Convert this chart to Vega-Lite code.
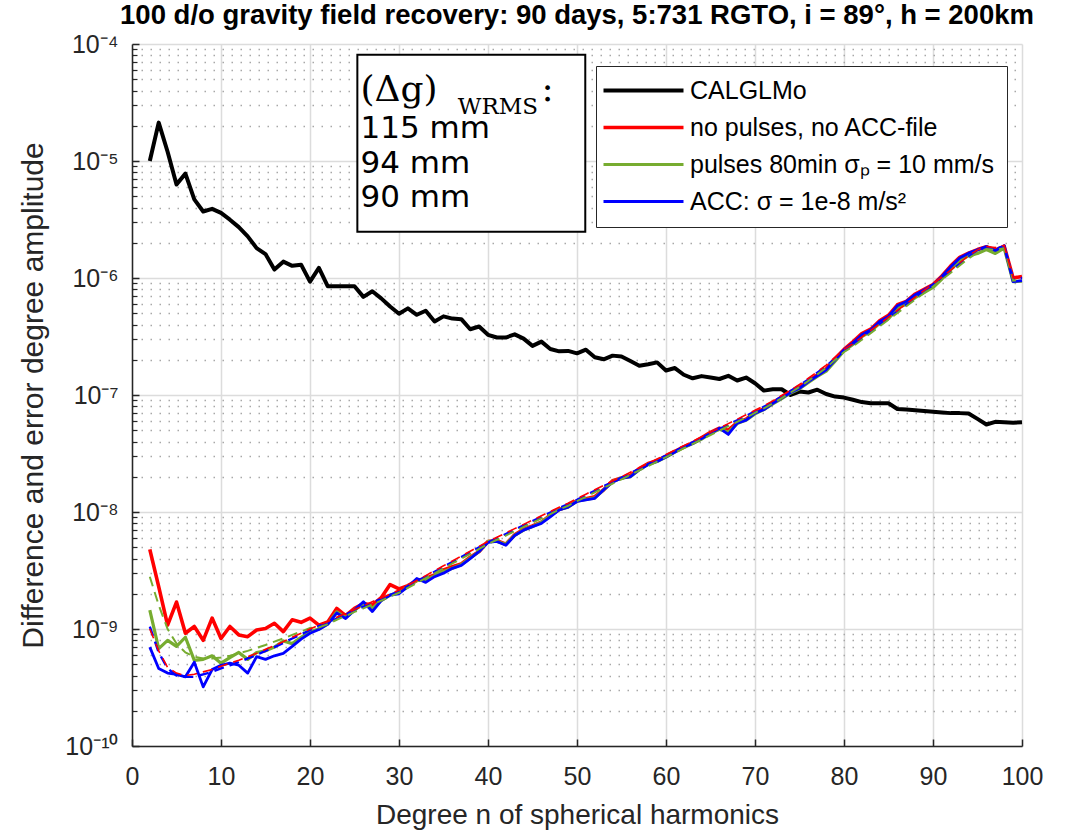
{
"$schema": "https://vega.github.io/schema/vega-lite/v6.json",
"width": 890, "height": 702,
"autosize": {"type": "none"},
"padding": {"left": 132, "top": 44, "right": 60, "bottom": 88},
"background": "white",
"config": {"font": "Liberation Sans", "view": {"stroke": null}},
"title": {"text": "100 d/o gravity field recovery: 90 days, 5:731 RGTO, i = 89°, h = 200km", "fontSize": 27.5, "fontWeight": "bold", "anchor": "middle", "offset": 3, "color": "#000000", "font": "Liberation Sans"},
"data": {"values": [
{"n":2,"cal":1.0e-5,"r":4.8e-9,"g":1.45e-9,"b":7.0e-10,"rd":1.0e-9,"gd":2.8e-9,"bd":1.05e-9},
{"n":3,"cal":2.13e-5,"r":2.3e-9,"g":6.8e-10,"b":4.6e-10,"rd":6.5e-10,"gd":1.6e-9,"bd":6.3e-10},
{"n":4,"cal":1.2e-5,"r":1.08e-9,"g":8.0e-10,"b":4.2e-10,"rd":4.7e-10,"gd":1.0e-9,"bd":4.6e-10},
{"n":5,"cal":6.3e-6,"r":1.7e-9,"g":7.1e-10,"b":4.1e-10,"rd":4.2e-10,"gd":7.5e-10,"bd":4.0e-10},
{"n":6,"cal":7.8e-6,"r":9.2e-10,"g":8.5e-10,"b":3.9e-10,"rd":4.0e-10,"gd":6.3e-10,"bd":3.9e-10},
{"n":7,"cal":4.7e-6,"r":1.05e-9,"g":5.4e-10,"b":5.2e-10,"rd":4.1e-10,"gd":5.8e-10,"bd":3.9e-10},
{"n":8,"cal":3.7e-6,"r":8.0e-10,"g":5.5e-10,"b":3.2e-10,"rd":4.3e-10,"gd":5.6e-10,"bd":4.1e-10},
{"n":9,"cal":3.9e-6,"r":1.24e-9,"g":5.9e-10,"b":4.5e-10,"rd":4.5e-10,"gd":5.6e-10,"bd":4.3e-10},
{"n":10,"cal":3.6e-6,"r":8.3e-10,"g":5.1e-10,"b":4.9e-10,"rd":4.8e-10,"gd":5.7e-10,"bd":4.6e-10},
{"n":11,"cal":3.15e-6,"r":1.05e-9,"g":5.7e-10,"b":5.1e-10,"rd":5.1e-10,"gd":5.9e-10,"bd":4.9e-10},
{"n":12,"cal":2.72e-6,"r":8.9e-10,"g":6.3e-10,"b":4.9e-10,"rd":5.4e-10,"gd":6.2e-10,"bd":5.2e-10},
{"n":13,"cal":2.27e-6,"r":8.6e-10,"g":5.5e-10,"b":4.2e-10,"rd":5.8e-10,"gd":6.5e-10,"bd":5.6e-10},
{"n":14,"cal":1.8e-6,"r":9.8e-10,"g":6.3e-10,"b":5.8e-10,"rd":6.2e-10,"gd":6.9e-10,"bd":6.0e-10},
{"n":15,"cal":1.6e-6,"r":1.01e-9,"g":6.5e-10,"b":5.5e-10,"rd":6.7e-10,"gd":7.3e-10,"bd":6.5e-10},
{"n":16,"cal":1.18e-6,"r":1.12e-9,"g":7.0e-10,"b":5.9e-10,"rd":7.2e-10,"gd":7.8e-10,"bd":7.0e-10},
{"n":17,"cal":1.38e-6,"r":9.5e-10,"g":7.9e-10,"b":6.2e-10,"rd":7.8e-10,"gd":8.3e-10,"bd":7.6e-10},
{"n":18,"cal":1.27e-6,"r":1.2e-9,"g":7.5e-10,"b":7.1e-10,"rd":8.5e-10,"gd":8.9e-10,"bd":8.3e-10},
{"n":19,"cal":1.3e-6,"r":1.14e-9,"g":8.5e-10,"b":8.2e-10,"rd":9.2e-10,"gd":9.5e-10,"bd":9.0e-10},
{"n":20,"cal":9.3e-7,"r":1.24e-9,"g":9.5e-10,"b":9.2e-10,"rd":1.0e-9,"gd":1.02e-9,"bd":9.8e-10},
{"n":21,"cal":1.22e-6,"r":1.08e-9,"g":1.0e-9,"b":9.9e-10,"rd":1.08e-9,"gd":1.03e-9,"bd":1.06e-9},
{"n":22,"cal":8.5e-7,"r":1.15e-9,"g":1.1e-9,"b":1.1e-9,"rd":1.16e-9,"gd":1.1e-9,"bd":1.14e-9},
{"n":23,"cal":8.5e-7,"r":1.5e-9,"g":1.4e-9,"b":1.37e-9,"rd":1.26e-9,"gd":1.2e-9,"bd":1.23e-9},
{"n":24,"cal":8.5e-7,"r":1.3e-9,"g":1.25e-9,"b":1.23e-9,"rd":1.36e-9,"gd":1.29e-9,"bd":1.33e-9},
{"n":25,"cal":8.5e-7,"r":1.5e-9,"g":1.45e-9,"b":1.45e-9,"rd":1.47e-9,"gd":1.4e-9,"bd":1.44e-9},
{"n":26,"cal":6.9e-7,"r":1.65e-9,"g":1.65e-9,"b":1.71e-9,"rd":1.58e-9,"gd":1.5e-9,"bd":1.55e-9},
{"n":27,"cal":7.7e-7,"r":1.6e-9,"g":1.5e-9,"b":1.41e-9,"rd":1.71e-9,"gd":1.62e-9,"bd":1.68e-9},
{"n":28,"cal":6.7e-7,"r":1.85e-9,"g":1.75e-9,"b":1.75e-9,"rd":1.84e-9,"gd":1.75e-9,"bd":1.8e-9},
{"n":29,"cal":5.7e-7,"r":2.4e-9,"g":1.95e-9,"b":1.95e-9,"rd":1.99e-9,"gd":1.89e-9,"bd":1.95e-9},
{"n":30,"cal":4.95e-7,"r":2.2e-9,"g":2.05e-9,"b":2.0e-9,"rd":2.15e-9,"gd":2.04e-9,"bd":2.11e-9},
{"n":31,"cal":5.5e-7,"r":2.35e-9,"g":2.3e-9,"b":2.3e-9,"rd":2.37e-9,"gd":2.25e-9,"bd":2.32e-9},
{"n":32,"cal":4.85e-7,"r":2.6e-9,"g":2.6e-9,"b":2.7e-9,"rd":2.6e-9,"gd":2.47e-9,"bd":2.55e-9},
{"n":33,"cal":5.25e-7,"r":2.7e-9,"g":2.6e-9,"b":2.5e-9,"rd":2.86e-9,"gd":2.72e-9,"bd":2.8e-9},
{"n":34,"cal":4.25e-7,"r":2.9e-9,"g":2.85e-9,"b":2.8e-9,"rd":3.15e-9,"gd":2.99e-9,"bd":3.09e-9},
{"n":35,"cal":4.7e-7,"r":3.2e-9,"g":3.1e-9,"b":3.0e-9,"rd":3.47e-9,"gd":3.3e-9,"bd":3.4e-9},
{"n":36,"cal":4.5e-7,"r":3.4e-9,"g":3.3e-9,"b":3.3e-9,"rd":3.82e-9,"gd":3.63e-9,"bd":3.74e-9},
{"n":37,"cal":4.45e-7,"r":3.6e-9,"g":3.55e-9,"b":3.5e-9,"rd":4.2e-9,"gd":3.99e-9,"bd":4.12e-9},
{"n":38,"cal":3.65e-7,"r":4.1e-9,"g":4.05e-9,"b":4.0e-9,"rd":4.62e-9,"gd":4.39e-9,"bd":4.53e-9},
{"n":39,"cal":3.85e-7,"r":4.6e-9,"g":4.6e-9,"b":4.6e-9,"rd":5.08e-9,"gd":4.83e-9,"bd":4.98e-9},
{"n":40,"cal":3.27e-7,"r":5.6e-9,"g":5.6e-9,"b":5.5e-9,"rd":5.6e-9,"gd":5.32e-9,"bd":5.49e-9},
{"n":41,"cal":3.1e-7,"r":5.7e-9,"g":5.6e-9,"b":5.6e-9,"rd":6.09e-9,"gd":5.79e-9,"bd":5.97e-9},
{"n":42,"cal":3.1e-7,"r":5.3e-9,"g":5.3e-9,"b":5.2e-9,"rd":6.62e-9,"gd":6.29e-9,"bd":6.49e-9},
{"n":43,"cal":3.3e-7,"r":6.4e-9,"g":6.3e-9,"b":6.3e-9,"rd":7.21e-9,"gd":6.85e-9,"bd":7.07e-9},
{"n":44,"cal":3.03e-7,"r":7.1e-9,"g":7.0e-9,"b":7.0e-9,"rd":7.84e-9,"gd":7.45e-9,"bd":7.68e-9},
{"n":45,"cal":2.63e-7,"r":7.6e-9,"g":7.5e-9,"b":7.5e-9,"rd":8.53e-9,"gd":8.1e-9,"bd":8.36e-9},
{"n":46,"cal":2.86e-7,"r":8.2e-9,"g":8.2e-9,"b":8.0e-9,"rd":9.28e-9,"gd":8.82e-9,"bd":9.09e-9},
{"n":47,"cal":2.47e-7,"r":9.4e-9,"g":9.3e-9,"b":9.1e-9,"rd":1.01e-8,"gd":9.6e-9,"bd":9.9e-9},
{"n":48,"cal":2.36e-7,"r":1.05e-8,"g":1.05e-8,"b":1.04e-8,"rd":1.1e-8,"gd":1.05e-8,"bd":1.08e-8},
{"n":49,"cal":2.38e-7,"r":1.12e-8,"g":1.1e-8,"b":1.1e-8,"rd":1.19e-8,"gd":1.13e-8,"bd":1.17e-8},
{"n":50,"cal":2.27e-7,"r":1.25e-8,"g":1.24e-8,"b":1.23e-8,"rd":1.3e-8,"gd":1.24e-8,"bd":1.27e-8},
{"n":51,"cal":2.44e-7,"r":1.3e-8,"g":1.28e-8,"b":1.27e-8,"rd":1.42e-8,"gd":1.35e-8,"bd":1.39e-8},
{"n":52,"cal":2.1e-7,"r":1.35e-8,"g":1.32e-8,"b":1.31e-8,"rd":1.55e-8,"gd":1.47e-8,"bd":1.52e-8},
{"n":53,"cal":2.02e-7,"r":1.55e-8,"g":1.55e-8,"b":1.55e-8,"rd":1.69e-8,"gd":1.61e-8,"bd":1.66e-8},
{"n":54,"cal":2.17e-7,"r":1.85e-8,"g":1.82e-8,"b":1.8e-8,"rd":1.84e-8,"gd":1.75e-8,"bd":1.8e-8},
{"n":55,"cal":2.13e-7,"r":1.95e-8,"g":1.95e-8,"b":1.95e-8,"rd":2.0e-8,"gd":1.9e-8,"bd":1.96e-8},
{"n":56,"cal":1.95e-7,"r":2.05e-8,"g":2.0e-8,"b":2.0e-8,"rd":2.19e-8,"gd":2.08e-8,"bd":2.15e-8},
{"n":57,"cal":1.78e-7,"r":2.35e-8,"g":2.3e-8,"b":2.3e-8,"rd":2.39e-8,"gd":2.27e-8,"bd":2.34e-8},
{"n":58,"cal":1.83e-7,"r":2.6e-8,"g":2.55e-8,"b":2.55e-8,"rd":2.6e-8,"gd":2.47e-8,"bd":2.55e-8},
{"n":59,"cal":1.9e-7,"r":2.75e-8,"g":2.7e-8,"b":2.7e-8,"rd":2.84e-8,"gd":2.7e-8,"bd":2.78e-8},
{"n":60,"cal":1.62e-7,"r":3.0e-8,"g":2.95e-8,"b":2.95e-8,"rd":3.1e-8,"gd":2.95e-8,"bd":3.04e-8},
{"n":61,"cal":1.7e-7,"r":3.3e-8,"g":3.25e-8,"b":3.25e-8,"rd":3.38e-8,"gd":3.21e-8,"bd":3.31e-8},
{"n":62,"cal":1.49e-7,"r":3.6e-8,"g":3.55e-8,"b":3.6e-8,"rd":3.69e-8,"gd":3.51e-8,"bd":3.62e-8},
{"n":63,"cal":1.39e-7,"r":3.9e-8,"g":3.85e-8,"b":3.85e-8,"rd":4.02e-8,"gd":3.82e-8,"bd":3.94e-8},
{"n":64,"cal":1.45e-7,"r":4.3e-8,"g":4.2e-8,"b":4.25e-8,"rd":4.39e-8,"gd":4.17e-8,"bd":4.3e-8},
{"n":65,"cal":1.41e-7,"r":4.8e-8,"g":4.7e-8,"b":4.7e-8,"rd":4.79e-8,"gd":4.55e-8,"bd":4.69e-8},
{"n":66,"cal":1.37e-7,"r":5.2e-8,"g":5.1e-8,"b":5.2e-8,"rd":5.22e-8,"gd":4.96e-8,"bd":5.12e-8},
{"n":67,"cal":1.46e-7,"r":5.0e-8,"g":4.8e-8,"b":4.6e-8,"rd":5.69e-8,"gd":5.41e-8,"bd":5.58e-8},
{"n":68,"cal":1.33e-7,"r":5.8e-8,"g":5.7e-8,"b":5.75e-8,"rd":6.21e-8,"gd":5.9e-8,"bd":6.09e-8},
{"n":69,"cal":1.41e-7,"r":6.2e-8,"g":6.1e-8,"b":6.1e-8,"rd":6.77e-8,"gd":6.43e-8,"bd":6.63e-8},
{"n":70,"cal":1.26e-7,"r":7.1e-8,"g":6.9e-8,"b":7.0e-8,"rd":7.4e-8,"gd":7.03e-8,"bd":7.25e-8},
{"n":71,"cal":1.09e-7,"r":7.6e-8,"g":7.5e-8,"b":7.5e-8,"rd":8.1e-8,"gd":7.7e-8,"bd":7.94e-8},
{"n":72,"cal":1.12e-7,"r":8.6e-8,"g":8.4e-8,"b":8.5e-8,"rd":8.9e-8,"gd":8.46e-8,"bd":8.72e-8},
{"n":73,"cal":1.12e-7,"r":9.6e-8,"g":9.3e-8,"b":9.4e-8,"rd":9.9e-8,"gd":9.4e-8,"bd":9.7e-8},
{"n":74,"cal":1.0e-7,"r":1.07e-7,"g":1.04e-7,"b":1.05e-7,"rd":1.1e-7,"gd":1.05e-7,"bd":1.08e-7},
{"n":75,"cal":1.07e-7,"r":1.16e-7,"g":1.13e-7,"b":1.14e-7,"rd":1.23e-7,"gd":1.17e-7,"bd":1.21e-7},
{"n":76,"cal":1.05e-7,"r":1.32e-7,"g":1.28e-7,"b":1.3e-7,"rd":1.39e-7,"gd":1.32e-7,"bd":1.36e-7},
{"n":77,"cal":1.11e-7,"r":1.48e-7,"g":1.44e-7,"b":1.46e-7,"rd":1.58e-7,"gd":1.5e-7,"bd":1.55e-7},
{"n":78,"cal":1.02e-7,"r":1.67e-7,"g":1.6e-7,"b":1.64e-7,"rd":1.8e-7,"gd":1.71e-7,"bd":1.76e-7},
{"n":79,"cal":9.7e-8,"r":2.05e-7,"g":1.95e-7,"b":2.0e-7,"rd":2.1e-7,"gd":2.0e-7,"bd":2.06e-7},
{"n":80,"cal":9.5e-8,"r":2.45e-7,"g":2.38e-7,"b":2.43e-7,"rd":2.45e-7,"gd":2.33e-7,"bd":2.4e-7},
{"n":81,"cal":9.1e-8,"r":2.85e-7,"g":2.7e-7,"b":2.78e-7,"rd":2.74e-7,"gd":2.6e-7,"bd":2.69e-7},
{"n":82,"cal":8.7e-8,"r":3.35e-7,"g":3.15e-7,"b":3.27e-7,"rd":3.13e-7,"gd":2.97e-7,"bd":3.07e-7},
{"n":83,"cal":8.5e-8,"r":3.65e-7,"g":3.5e-7,"b":3.6e-7,"rd":3.56e-7,"gd":3.38e-7,"bd":3.49e-7},
{"n":84,"cal":8.5e-8,"r":4.3e-7,"g":4.1e-7,"b":4.25e-7,"rd":4.06e-7,"gd":3.86e-7,"bd":3.98e-7},
{"n":85,"cal":8.5e-8,"r":4.8e-7,"g":4.5e-7,"b":4.7e-7,"rd":4.63e-7,"gd":4.4e-7,"bd":4.54e-7},
{"n":86,"cal":7.6e-8,"r":5.9e-7,"g":5.5e-7,"b":5.8e-7,"rd":5.28e-7,"gd":5.02e-7,"bd":5.17e-7},
{"n":87,"cal":7.5e-8,"r":6.3e-7,"g":6.0e-7,"b":6.3e-7,"rd":6.03e-7,"gd":5.73e-7,"bd":5.91e-7},
{"n":88,"cal":7.4e-8,"r":7.3e-7,"g":6.8e-7,"b":7.2e-7,"rd":6.87e-7,"gd":6.53e-7,"bd":6.73e-7},
{"n":89,"cal":7.3e-8,"r":8.0e-7,"g":7.5e-7,"b":7.9e-7,"rd":7.83e-7,"gd":7.44e-7,"bd":7.67e-7},
{"n":90,"cal":7.2e-8,"r":8.8e-7,"g":8.3e-7,"b":8.7e-7,"rd":8.9e-7,"gd":8.46e-7,"bd":8.72e-7},
{"n":91,"cal":7.1e-8,"r":1.04e-6,"g":9.8e-7,"b":1.03e-6,"rd":1.02e-6,"gd":9.7e-7,"bd":1.0e-6},
{"n":92,"cal":7.0e-8,"r":1.27e-6,"g":1.18e-6,"b":1.25e-6,"rd":1.17e-6,"gd":1.11e-6,"bd":1.15e-6},
{"n":93,"cal":7.0e-8,"r":1.5e-6,"g":1.4e-6,"b":1.48e-6,"rd":1.35e-6,"gd":1.28e-6,"bd":1.32e-6},
{"n":94,"cal":6.95e-8,"r":1.63e-6,"g":1.55e-6,"b":1.63e-6,"rd":1.55e-6,"gd":1.47e-6,"bd":1.52e-6},
{"n":95,"cal":6.25e-8,"r":1.75e-6,"g":1.62e-6,"b":1.74e-6,"rd":1.74e-6,"gd":1.65e-6,"bd":1.71e-6},
{"n":96,"cal":5.6e-8,"r":1.85e-6,"g":1.75e-6,"b":1.86e-6,"rd":1.86e-6,"gd":1.77e-6,"bd":1.82e-6},
{"n":97,"cal":5.9e-8,"r":1.73e-6,"g":1.62e-6,"b":1.72e-6,"rd":1.82e-6,"gd":1.73e-6,"bd":1.78e-6},
{"n":98,"cal":5.85e-8,"r":1.87e-6,"g":1.8e-6,"b":1.89e-6,"rd":1.9e-6,"gd":1.8e-6,"bd":1.86e-6},
{"n":99,"cal":5.8e-8,"r":1.0e-6,"g":9.3e-7,"b":9.3e-7,"rd":1.0e-6,"gd":9.5e-7,"bd":9.8e-7},
{"n":100,"cal":5.85e-8,"r":1.03e-6,"g":9.4e-7,"b":9.5e-7,"rd":1.02e-6,"gd":9.7e-7,"bd":1.0e-6}
]},
"layer": [
{
"transform": [{"fold": ["cal","r","g","b"], "as": ["series","value"]}],
"mark": {"type": "line", "strokeJoin": "round"},
"encoding": {
"x": {"field": "n", "type": "quantitative", "scale": {"domain": [0,100], "nice": false},
 "axis": {"title": "Degree n of spherical harmonics", "values": [0,10,20,30,40,50,60,70,80,90,100], "grid": true, "gridColor": "#dcdcdc", "gridWidth": 1.5, "domainColor": "#262626", "domainWidth": 1.5, "tickColor": "#262626", "tickSize": -7, "tickWidth": 1.5, "labelFontSize": 25, "labelColor": "#262626", "labelPadding": 25, "labelFlush": false, "labelOverlap": false, "titleFontSize": 28, "titleFontWeight": "normal", "titleColor": "#262626", "titlePadding": 12}},
"y": {"field": "value", "type": "quantitative", "scale": {"type": "log", "domain": [1e-10,1e-4], "nice": false},
 "axis": {"orient": "left", "title": "Difference and error degree amplitude", "values": [1e-10,1e-9,1e-8,1e-7,1e-6,1e-5,1e-4], "labelExpr": "'10⁻' + ['⁰','¹','²','³','⁴','⁵','⁶','⁷','⁸','⁹','¹⁰'][round(-log(datum.value)/LN10)]", "grid": true, "gridColor": "#dcdcdc", "gridWidth": 1.5, "domainColor": "#262626", "domainWidth": 1.5, "tickColor": "#262626", "tickSize": -7, "tickWidth": 1.5, "labelFontSize": 25, "labelColor": "#262626", "labelPadding": 21, "labelFlush": false, "labelOverlap": false, "titleFontSize": 30, "titleFontWeight": "normal", "titleColor": "#262626", "titlePadding": 16}},
"color": {"field": "series", "type": "nominal", "scale": {"domain": ["cal","r","g","b","bd","gd","rd"], "range": ["#000000","#ff0000","#77ac30","#0000ff","#0000ff","#77ac30","#ff0000"]},
 "legend": {"title": null, "values": ["cal","r","g","b"], "orient": "none", "legendX": 464, "legendY": 22, "symbolType": "M-8,0H8", "symbolSize": 100, "symbolOffset": 23, "labelOffset": 34, "labelFontSize": 25, "labelFont": "Liberation Sans", "labelColor": "#000000", "labelLimit": 500, "padding": 12, "rowPadding": 11, "strokeColor": "#262626", "fillColor": "white",
 "labelExpr": "datum.label == 'cal' ? 'CALGLMo' : datum.label == 'r' ? 'no pulses, no ACC-file' : datum.label == 'g' ? 'pulses 80min σₚ = 10 mm/s' : 'ACC: σ = 1e-8 m/s²'"}},
"strokeWidth": {"field": "series", "type": "nominal", "scale": {"domain": ["cal","r","g","b","bd","gd","rd"], "range": [4,1.6,1.6,1.6,2,2,2]},
 "legend": {"title": null, "values": ["cal","r","g","b"], "orient": "none", "legendX": 464, "legendY": 22, "symbolType": "M-8,0H8", "symbolSize": 100, "symbolOffset": 23, "labelOffset": 34, "labelFontSize": 25, "labelFont": "Liberation Sans", "labelColor": "#000000", "labelLimit": 500, "padding": 12, "rowPadding": 11, "strokeColor": "#262626", "fillColor": "white",
 "labelExpr": "datum.label == 'cal' ? 'CALGLMo' : datum.label == 'r' ? 'no pulses, no ACC-file' : datum.label == 'g' ? 'pulses 80min σₚ = 10 mm/s' : 'ACC: σ = 1e-8 m/s²'"}}
}
},
{
"transform": [{"fold": ["bd","gd","rd"], "as": ["series","value"]}],
"mark": {"type": "line", "strokeDash": [10,6]},
"encoding": {
"x": {"field": "n", "type": "quantitative"},
"y": {"field": "value", "type": "quantitative",
 "axis": {"orient": "left", "title": null, "values": [2e-10,3e-10,4e-10,5e-10,6e-10,7e-10,8e-10,9e-10,2e-9,3e-9,4e-9,5e-9,6e-9,7e-9,8e-9,9e-9,2e-8,3e-8,4e-8,5e-8,6e-8,7e-8,8e-8,9e-8,2e-7,3e-7,4e-7,5e-7,6e-7,7e-7,8e-7,9e-7,2e-6,3e-6,4e-6,5e-6,6e-6,7e-6,8e-6,9e-6,2e-5,3e-5,4e-5,5e-5,6e-5,7e-5,8e-5,9e-5], "grid": true, "gridDash": [1.5,7.5], "gridColor": "#a8a8a8", "gridWidth": 1.3, "labels": false, "domain": false, "ticks": true, "tickSize": -5, "tickColor": "#262626", "tickWidth": 1.2}},
"color": {"field": "series", "type": "nominal"},
"strokeWidth": {"field": "series", "type": "nominal"}
}
},
{
"data": {"values": [{}]},
"mark": {"type": "rect", "fill": "white", "stroke": "#000000", "strokeWidth": 2},
"encoding": {
"x": {"datum": 25.32, "type": "quantitative"},
"x2": {"datum": 50.93},
"y": {"datum": 8.1e-5, "type": "quantitative", "axis": null},
"y2": {"datum": 2.48e-6}
}
},
{
"data": {"values": [{}]},
"mark": {"type": "text", "text": "(Δg)", "font": "DejaVu Serif", "fontSize": 36, "align": "left", "baseline": "alphabetic", "color": "#000000"},
"encoding": {"x": {"datum": 25.67, "type": "quantitative"}, "y": {"datum": 3.27e-5, "type": "quantitative", "axis": null}}
},
{
"data": {"values": [{}]},
"mark": {"type": "text", "text": "WRMS", "font": "DejaVu Serif", "fontSize": 23, "align": "left", "baseline": "alphabetic", "color": "#000000"},
"encoding": {"x": {"datum": 36.6, "type": "quantitative"}, "y": {"datum": 2.5e-5, "type": "quantitative", "axis": null}}
},
{
"data": {"values": [{}]},
"mark": {"type": "text", "text": ":", "font": "DejaVu Serif", "fontSize": 36, "align": "left", "baseline": "alphabetic", "color": "#000000"},
"encoding": {"x": {"datum": 46.0, "type": "quantitative"}, "y": {"datum": 3.27e-5, "type": "quantitative", "axis": null}}
},
{
"data": {"values": [{}]},
"mark": {"type": "text", "text": "115 mm", "font": "DejaVu Sans", "fontSize": 31, "align": "left", "baseline": "alphabetic", "color": "#000000"},
"encoding": {"x": {"datum": 25.67, "type": "quantitative"}, "y": {"datum": 1.58e-5, "type": "quantitative", "axis": null}}
},
{
"data": {"values": [{}]},
"mark": {"type": "text", "text": "94 mm", "font": "DejaVu Sans", "fontSize": 31, "align": "left", "baseline": "alphabetic", "color": "#000000"},
"encoding": {"x": {"datum": 25.67, "type": "quantitative"}, "y": {"datum": 7.93e-6, "type": "quantitative", "axis": null}}
},
{
"data": {"values": [{}]},
"mark": {"type": "text", "text": "90 mm", "font": "DejaVu Sans", "fontSize": 31, "align": "left", "baseline": "alphabetic", "color": "#000000"},
"encoding": {"x": {"datum": 25.67, "type": "quantitative"}, "y": {"datum": 4.06e-6, "type": "quantitative", "axis": null}}
}
],
"resolve": {"axis": {"y": "independent"}}
}
